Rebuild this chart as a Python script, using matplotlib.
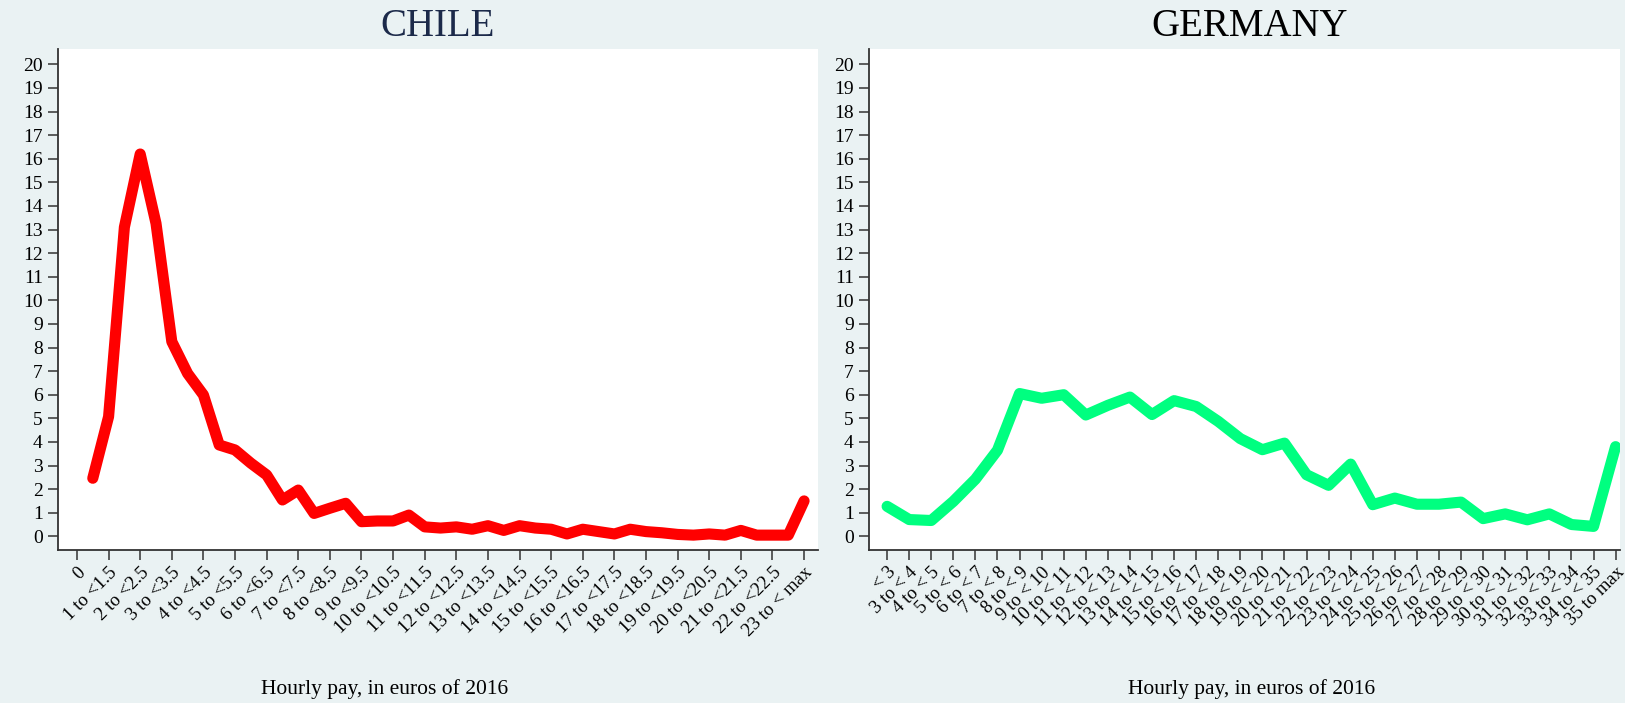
import matplotlib.pyplot as plt
import numpy as np

# Share of workers by hourly pay bin (%)
chile_values = [2.46, 5.07, 13.1, 16.2, 13.26, 8.25, 6.9, 5.99, 3.87, 3.66,
                3.1, 2.6, 1.54, 1.96, 0.97, 1.19, 1.4, 0.62, 0.65, 0.65,
                0.9, 0.4, 0.35, 0.4, 0.3, 0.45, 0.25, 0.45, 0.35, 0.3,
                0.1, 0.3, 0.2, 0.1, 0.3, 0.2, 0.15, 0.08, 0.05, 0.1,
                0.05, 0.25, 0.05, 0.05, 0.05, 1.5]
chile_tick_labels = ["0"] + ["%d to <%d.5" % (k, k) for k in range(1, 23)] + ["23 to < max"]

germany_values = [1.27, 0.71, 0.67, 1.48, 2.42, 3.65, 6.05, 5.85, 6.0, 5.14,
                  5.55, 5.9, 5.16, 5.75, 5.5, 4.87, 4.14, 3.67, 3.95, 2.61,
                  2.16, 3.06, 1.34, 1.62, 1.36, 1.36, 1.45, 0.75, 0.95, 0.7,
                  0.95, 0.5, 0.42, 3.8]
germany_tick_labels = ["< 3"] + ["%d to < %d" % (k, k + 1) for k in range(3, 35)] + ["35 to max"]

y_ticks = list(range(0, 21))

BG = "#EAF2F3"
W, H = 1625, 703
plt.rcParams["font.family"] = ["Liberation Serif", "DejaVu Serif"]

fig = plt.figure(figsize=(W / 100, H / 100), dpi=100, facecolor=BG)


def px_axes(left, top, right, bottom):
    """Create axes from pixel box coordinates (origin top-left)."""
    return fig.add_axes([left / W, 1 - bottom / H, (right - left) / W, (bottom - top) / H])


def style_axes(ax):
    ax.set_facecolor("white")
    for side in ["top", "right"]:
        ax.spines[side].set_visible(False)
    for side in ["left", "bottom"]:
        ax.spines[side].set_color("#333333")
        ax.spines[side].set_linewidth(1.3)
    ax.tick_params(axis="both", direction="out", length=7, width=1.1, color="#333333",
                   labelcolor="black")
    ax.tick_params(axis="y", labelsize=14, pad=4)
    ax.tick_params(axis="x", labelsize=13.5, pad=3)
    ax.set_yticks(y_ticks)
    ax.set_ylim(-0.58, 20.65)


# Chile panel: bins of half a euro, labelled every whole euro
ax1 = px_axes(58, 49, 818, 550)
style_axes(ax1)
chile_x = 0.5 * (np.arange(len(chile_values)) + 1)
ax1.plot(chile_x, chile_values, color="#FF0000", linewidth=8,
         solid_capstyle="round", solid_joinstyle="round")
ax1.set_xticks(np.arange(len(chile_tick_labels)))
ax1.set_xticklabels(chile_tick_labels, rotation=45, ha="right", va="top",
                    rotation_mode="anchor")
ax1.set_xlim(-0.6, 23.44)

# Germany panel: one euro bins
ax2 = px_axes(869, 49, 1620, 550)
style_axes(ax2)
germany_x = np.arange(len(germany_values))
ax2.plot(germany_x, germany_values, color="#00FF80", linewidth=8,
         solid_capstyle="round", solid_joinstyle="round")
ax2.set_xticks(np.arange(len(germany_tick_labels)))
ax2.set_xticklabels(germany_tick_labels, rotation=45, ha="right", va="top",
                    rotation_mode="anchor")
ax2.set_xlim(-0.82, 33.2)

# Titles and axis titles
fig.text(438 / W, 1 - 27 / H, "CHILE", ha="center", va="center", fontsize=28, color="#1C2A4A")
fig.text(1250 / W, 1 - 27 / H, "GERMANY", ha="center", va="center", fontsize=28, color="black")
fig.text(385 / W, 1 - 689 / H, "Hourly pay, in euros of 2016", ha="center", va="center",
         fontsize=15.5, color="black")
fig.text(1252 / W, 1 - 689 / H, "Hourly pay, in euros of 2016", ha="center", va="center",
         fontsize=15.5, color="black")

fig.savefig("out.png", dpi=100, facecolor=BG)
